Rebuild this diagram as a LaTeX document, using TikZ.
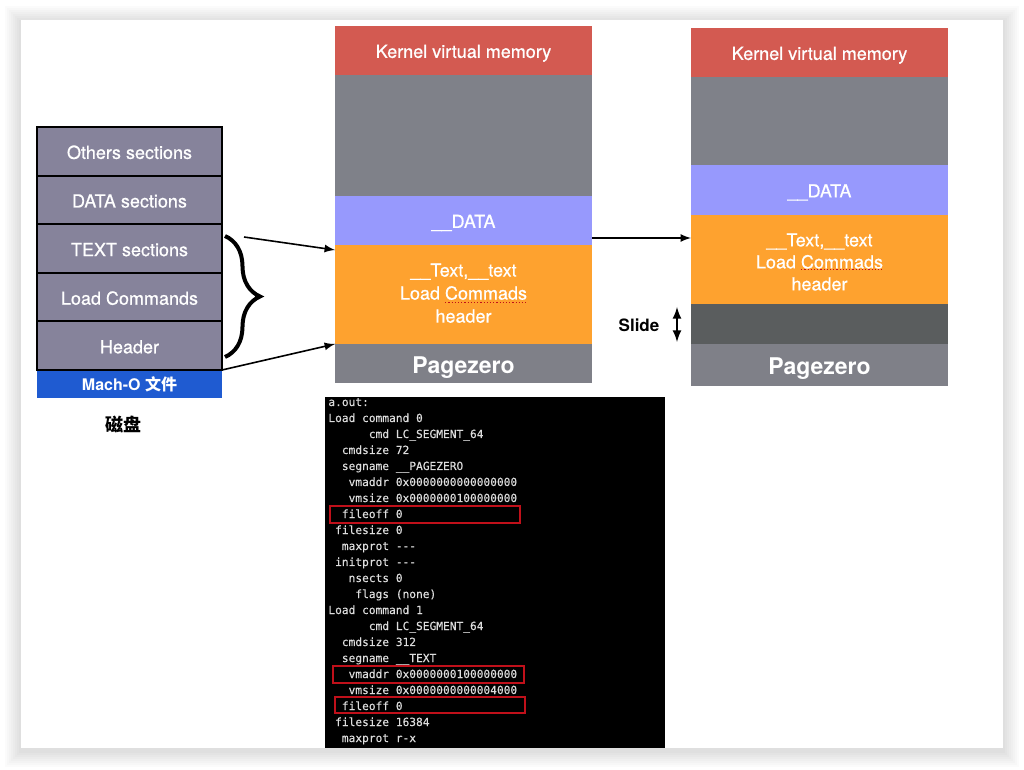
\documentclass[tikz,border=0pt]{standalone}
\usepackage{fontspec}
\setmainfont{TeX Gyre Heros}
\newfontfamily\medfont{TeX Gyre Heros}[FakeBold=0.6]
\newfontfamily\cjk{Noto Sans CJK SC}
\newfontfamily\term{DejaVu Sans Mono}[FakeBold=0.3]
\usetikzlibrary{positioning,decorations.pathreplacing}
\definecolor{kern}{HTML}{D35A51}
\definecolor{gapgray}{HTML}{7F8189}
\definecolor{datapurple}{HTML}{9799FD}
\definecolor{textorange}{HTML}{FEA22F}
\definecolor{slidegray}{HTML}{5A5D5E}
\definecolor{pzgray}{HTML}{7F8088}
\definecolor{secfill}{HTML}{86839B}
\definecolor{machoblue}{HTML}{1F5BD1}
\definecolor{termtext}{HTML}{DDDDDD}
\definecolor{redbox}{HTML}{C0101A}
\tikzset{link/.style={-latex,line width=0.8pt}}
\newcommand\stackTxt[2]{\raisebox{#1}[0pt][0pt]{\begin{tabular}{@{}c@{}}#2\end{tabular}}}

\begin{document}
\begin{tikzpicture}[x=0.5pt,y=-0.5pt]
\tikzstyle{sect}=[draw=black,line width=1pt,fill=secfill,text=white,minimum width=92.5pt,minimum height=24.3pt,outer sep=0pt,inner sep=0pt,
  text height=7.6pt,text depth=0pt,font=\medfont\fontsize{9}{11}\selectfont]
\tikzstyle{seg}=[minimum width=128.5pt,outer sep=0pt,inner sep=0pt,text=white,align=center,font=\medfont\fontsize{9}{11.5}\selectfont]
\tikzstyle{one}=[text height=7.4pt,text depth=0pt]
\tikzstyle{pz}=[seg,fill=pzgray,text height=10pt,text depth=0pt,font=\bfseries\fontsize{11.5}{13}\selectfont]
\tikzstyle{tline}=[anchor=base west,inner sep=0pt,text=termtext,font=\term\fontsize{5.6}{6}\selectfont]
\tikzstyle{spell}=[redbox,densely dotted,line width=0.6pt]

% page with its shadow
\useasboundingbox (0,0) rectangle (1024,770);
\fill[white] (0,0) rectangle (1024,770);
\foreach \d in {2,4,...,16}
  \fill[black,opacity=0.014] (21-\d,22-\d) rectangle (1003+\d,751+\d);
\fill[white] (21,20) rectangle (1003,748);

% Mach-O on disk
\node[sect,anchor=north west] (others) at (37,127) {Others sections};
\node[sect,below=0pt of others] (datas) {DATA sections};
\node[sect,below=0pt of datas] (texts) {TEXT sections};
\node[sect,below=0pt of texts] (lcmds) {Load Commands};
\node[sect,below=0pt of lcmds] (hdr) {Header};
\node[fill=machoblue,text=white,minimum width=92.5pt,minimum height=13.5pt,inner sep=0pt,outer sep=0pt,
  font=\bfseries\fontsize{8}{9}\selectfont,below=0.5pt of hdr] (macho) {Mach-O {\cjk\bfseries 文件}};
\node[font=\cjk\bfseries\fontsize{9}{11}\selectfont] (disk) at (123,424) {磁盘};

\draw[decorate,decoration={brace,amplitude=17.5pt},line width=2pt] (225,236) -- (225,357);
\coordinate (bTop) at (244,237);

% memory before slide
\node[seg,one,fill=kern,minimum height=24.5pt,anchor=north west] (mK) at (335,26) {Kernel virtual memory};
\node[seg,fill=gapgray,minimum height=60.5pt,below=0pt of mK] (mG) {};
\node[seg,one,fill=datapurple,minimum height=24.5pt,below=0pt of mG] (mD) {\_\_DATA};
\node[seg,fill=textorange,minimum height=49.5pt,below=0pt of mD] (mO)
  {\stackTxt{-2.5pt}{\_\_Text,\_\_text\\Load Commads\\header}};
\node[pz,minimum height=19.5pt,below=0pt of mO] (mP) {Pagezero};
\draw[spell] ([xshift=-9.2pt,yshift=-4pt]mO.center) -- ++(41pt,0);

% memory after slide
\node[seg,one,fill=kern,minimum height=24.5pt,anchor=north west] (rK) at (691,28) {Kernel virtual memory};
\node[seg,fill=gapgray,minimum height=44pt,below=0pt of rK] (rG) {};
\node[seg,one,fill=datapurple,minimum height=25pt,below=0pt of rG] (rD) {\_\_DATA};
\node[seg,fill=textorange,minimum height=44.5pt,below=0pt of rD,font=\medfont\fontsize{9}{11}\selectfont] (rO)
  {\stackTxt{-4.5pt}{\_\_Text,\_\_text\\Load Commads\\header}};
\node[seg,fill=slidegray,minimum height=20pt,below=0pt of rO] (rS) {};
\node[pz,minimum height=21pt,below=0pt of rS] (rP) {Pagezero};
\draw[spell] ([xshift=-9.2pt,yshift=-5.2pt]rO.center) -- ++(41pt,0);

\node[font=\bfseries\fontsize{8.5}{10}\selectfont] (slide) at (639,325) {Slide};
\coordinate (sTop) at (677,307);
\coordinate (sBot) at (677,342);
\draw[latex-latex,line width=1pt] (sTop) -- (sBot);

\draw[link] (bTop) -- ([yshift=-2.5pt]mO.north west);
\draw[link] (hdr.south east) -- (mO.south west);
\draw[link] ([yshift=3.5pt]mO.north east) -- ([yshift=-11.5pt]rO.north west);

% otool output
\node[fill=black,minimum width=170pt,minimum height=175.5pt,inner sep=0pt,anchor=north west] (term) at (325,397) {};
\draw[redbox,line width=1pt] (330,506) rectangle (520,523);
\draw[redbox,line width=1pt] (333,666) rectangle (524,683);
\draw[redbox,line width=1pt] (335,697) rectangle (525,713);
\foreach \t [count=\i] in {a.out:,
  Load command 0,
  \phantom{000000}cmd LC\_SEGMENT\_64,
  \phantom{00}cmdsize 72,
  \phantom{00}segname \_\_PAGEZERO,
  \phantom{000}vmaddr 0x0000000000000000,
  \phantom{000}vmsize 0x0000000100000000,
  \phantom{00}fileoff 0,
  \phantom{0}filesize 0,
  \phantom{00}maxprot -{}-{}-,
  \phantom{0}initprot -{}-{}-,
  \phantom{000}nsects 0,
  \phantom{0000}flags (none),
  Load command 1,
  \phantom{000000}cmd LC\_SEGMENT\_64,
  \phantom{00}cmdsize 312,
  \phantom{00}segname \_\_TEXT,
  \phantom{000}vmaddr 0x0000000100000000,
  \phantom{000}vmsize 0x0000000000004000,
  \phantom{00}fileoff 0,
  \phantom{0}filesize 16384,
  \phantom{00}maxprot r-x}
  \node[tline] (l\i) at (328,390+16*\i) {\t};
\end{tikzpicture}
\end{document}
